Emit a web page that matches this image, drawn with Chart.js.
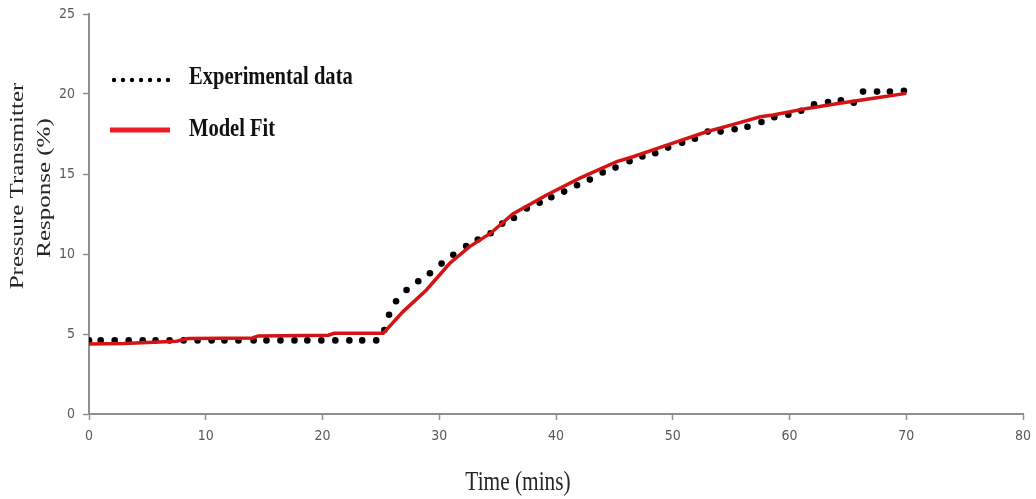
<!DOCTYPE html>
<html lang="en">
<head>
    <meta charset="UTF-8">
    <title>Pressure Transmitter Response</title>
    <script src="https://cdn.jsdelivr.net/npm/chart.js"></script>
    <style>
        html, body { margin: 0; padding: 0; background: #fff; }
        #wrap { width: 1036px; height: 499px; }
    </style>
</head>
<body>
<div id="wrap"><canvas id="responseChart"></canvas></div>
<script>
    // experimental readings (time in minutes, response in %)
    const expTime = [0, 1.0, 2.2, 3.4, 4.6, 5.7, 6.9, 8.1, 9.3, 10.5, 11.6, 12.8, 14.1, 15.2, 16.4, 17.6, 18.7, 19.9, 21.1, 22.3, 23.4, 24.6,
        25.3, 25.7, 26.3, 27.2, 28.2, 29.2, 30.2, 31.2, 32.3, 33.3, 34.4, 35.4, 36.4, 37.5, 38.6, 39.6, 40.7, 41.8, 42.9, 44.0,
        45.1, 46.3, 47.4, 48.5, 49.6, 50.8, 51.9, 53.0, 54.1, 55.3, 56.4, 57.6, 58.7, 59.9, 61.0, 62.1, 63.3, 64.4, 65.5, 66.3,
        67.5, 68.6, 69.8];
    const expResponse = [4.6, 4.6, 4.6, 4.6, 4.6, 4.6, 4.6, 4.6, 4.6, 4.6, 4.6, 4.6, 4.6, 4.6, 4.6, 4.6, 4.6, 4.6, 4.6, 4.6, 4.6, 4.6,
        5.25, 6.2, 7.05, 7.75, 8.3, 8.8, 9.4, 9.95, 10.5, 10.9, 11.3, 11.9, 12.25, 12.85, 13.2, 13.55, 13.9, 14.3, 14.65, 15.1,
        15.4, 15.8, 16.1, 16.3, 16.65, 16.95, 17.2, 17.65, 17.65, 17.8, 17.95, 18.25, 18.55, 18.7, 18.95, 19.35, 19.5, 19.6, 19.45, 20.15,
        20.15, 20.15, 20.2];

    // model fit curve
    const fitTime = [0, 3, 7.5, 8.5, 14, 14.5, 20.5, 21, 25.2, 26.9, 28.9, 30.9, 32.6, 34.4, 36.3, 39.2, 42.0, 45.2, 46.6, 49.5,
        52.9, 55.2, 57.5, 58.6, 61.5, 64.3, 67.2, 70.0];
    const fitResponse = [4.37, 4.4, 4.55, 4.72, 4.75, 4.88, 4.92, 5.04, 5.04, 6.4, 7.75, 9.42, 10.46, 11.3, 12.5, 13.69, 14.73, 15.77, 16.08, 16.81,
        17.64, 18.1, 18.58, 18.69, 19.1, 19.42, 19.73, 20.04];

    const xTicks = [0, 10, 20, 30, 40, 50, 60, 70, 80];
    const yTicks = [0, 5, 10, 15, 20, 25];

    const legendLabels = ["Experimental data", "Model Fit"];
    const xTitle = "Time (mins)";
    const yTitle = ["Pressure Transmitter", "Response (%)"];

    const squash = 0.79;  // the original text is narrow

    function squashedText(ctx, text, x, y, font, color, align, angle) {
        ctx.save();
        ctx.translate(x, y);
        if (angle) ctx.rotate(angle);
        if (angle) ctx.scale(1, squash); else ctx.scale(squash, 1);
        ctx.font = font;
        ctx.fillStyle = color;
        ctx.textAlign = align;
        ctx.textBaseline = "middle";
        ctx.fillText(text, 0, 0);
        ctx.restore();
    }

    const annotations = {
        id: "annotations",
        afterDraw(chart) {
            const ctx = chart.ctx;

            // legend, sits inside the plot
            ctx.save();
            ctx.fillStyle = "#000";
            for (let i = 0; i < 7; i++) {
                ctx.beginPath();
                ctx.arc(114 + i * 9, 80, 2.2, 0, Math.PI * 2);
                ctx.fill();
            }
            ctx.strokeStyle = "#ee1c25";
            ctx.lineWidth = 5;
            ctx.beginPath();
            ctx.moveTo(110, 130);
            ctx.lineTo(170, 130);
            ctx.stroke();
            ctx.restore();
            squashedText(ctx, legendLabels[0], 189, 77, "bold 26px 'Liberation Serif'", "#111", "left");
            squashedText(ctx, legendLabels[1], 189, 129, "bold 26px 'Liberation Serif'", "#111", "left");

            // axis titles
            squashedText(ctx, xTitle, 518, 483, "27px 'Liberation Serif'", "#262626", "center");
            squashedText(ctx, yTitle[0], 18, 186, "25px 'Liberation Serif'", "#262626", "center", -Math.PI / 2);
            squashedText(ctx, yTitle[1], 45, 188, "25px 'Liberation Serif'", "#262626", "center", -Math.PI / 2);
        }
    };

    const tickFont = { family: "'Liberation Sans Narrow', 'DejaVu Sans Condensed', sans-serif", size: 14 };

    const ctx = document.getElementById("responseChart").getContext("2d");
    new Chart(ctx, {
        type: "scatter",
        data: {
            datasets: [{
                label: legendLabels[1],
                type: "line",
                data: fitTime.map((t, i) => ({ x: t, y: fitResponse[i] })),
                borderColor: "#d41414",
                borderWidth: 3.5,
                pointRadius: 0,
                tension: 0,
                fill: false,
                order: 1
            }, {
                label: legendLabels[0],
                data: expTime.map((t, i) => ({ x: t, y: expResponse[i] })),
                backgroundColor: "#000",
                borderColor: "#000",
                pointRadius: 3.3,
                pointBorderWidth: 0,
                order: 2
            }]
        },
        options: {
            responsive: true,
            maintainAspectRatio: false,
            animation: false,
            layout: { padding: { top: 14, right: 13, bottom: 0, left: 0 } },
            plugins: {
                legend: { display: false },
                tooltip: { enabled: false }
            },
            scales: {
                x: {
                    type: "linear",
                    min: 0,
                    max: 80,
                    afterBuildTicks: s => { s.ticks = xTicks.map(v => ({ value: v })); },
                    afterFit: s => { s.height = 85; s.paddingLeft = 0; s.paddingRight = 0; },
                    grid: { drawOnChartArea: false, tickLength: 6, tickColor: "#8f8f8f", tickWidth: 1.5 },
                    border: { color: "#8f8f8f", width: 2 },
                    ticks: { color: "#595959", font: tickFont, padding: 8, maxRotation: 0 }
                },
                y: {
                    min: 0,
                    max: 25,
                    afterBuildTicks: s => { s.ticks = yTicks.map(v => ({ value: v })); },
                    afterFit: s => { s.width = 89; s.paddingTop = 0; s.paddingBottom = 0; },
                    grid: { drawOnChartArea: false, tickLength: 6, tickColor: "#8f8f8f", tickWidth: 1.5 },
                    border: { color: "#8f8f8f", width: 2 },
                    ticks: { color: "#595959", font: tickFont, padding: 8 }
                }
            }
        },
        plugins: [annotations]
    });
</script>
</body>
</html>
